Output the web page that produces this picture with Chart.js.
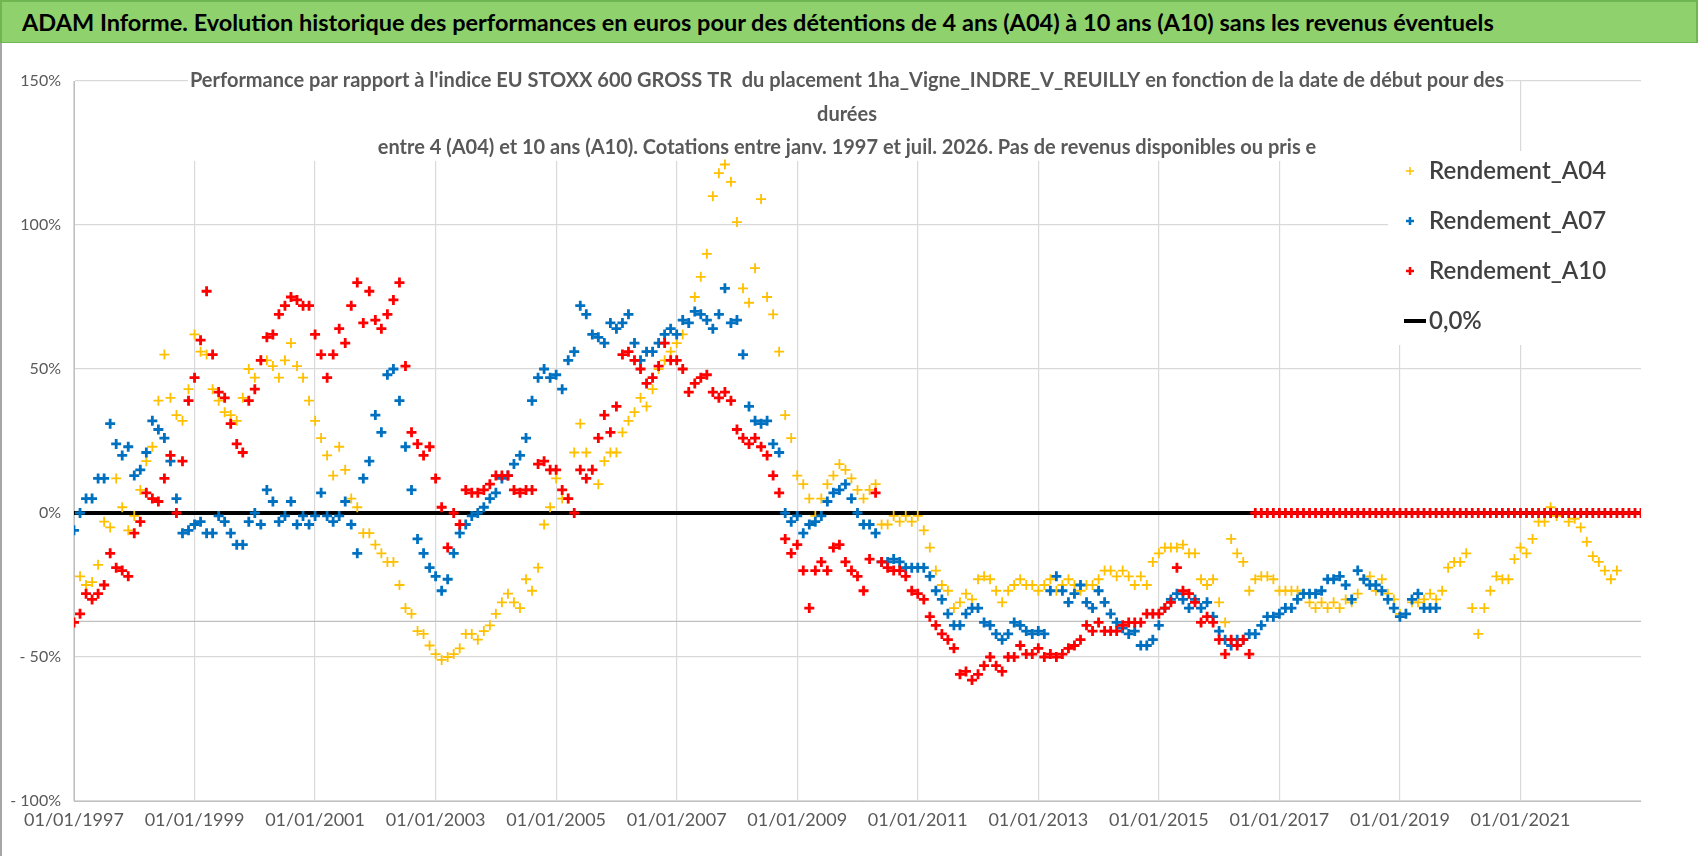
<!DOCTYPE html>
<html>
<head>
<meta charset="utf-8">
<script src="https://cdn.jsdelivr.net/npm/chart.js@4.4.1/dist/chart.umd.min.js"></script>
<style>
  html, body { margin: 0; padding: 0; background: #fff; }
  #bar {
    height: 43px; width: 1698px; background: #8fd16c; border: 2px solid #6fb552; border-bottom: 1px solid #6fb552;
    font: bold 23.5px Lato, "Open Sans", sans-serif; color: #000; line-height: 40px; padding-left: 20px; box-sizing: border-box;
  }
  #wrap { width: 1698px; height: 813px; position: relative; border-left: 2px solid #a6a6a6; box-sizing: border-box; }
  canvas { display: block; }
</style>
</head>
<body>
<div id="bar">ADAM Informe. Evolution historique des performances en euros pour des détentions de 4 ans (A04) à 10 ans (A10) sans les revenus éventuels</div>
<div id="wrap"><canvas id="chart" width="1696" height="813"></canvas></div>
<script>
// values in %, one reading every 0.1 year from the start year
const startYear = 1997;
const step = 0.1;

const rendementA04 = [
  -38, -22, -25, -24, -18, -3, -5, 12, 2, -6,
  -1, 8, 18, 23, 39, 55, 40, 34, 32, 43,
  62, 56, 55, 43, 39, 35, 34, 32, 40, 50,
  47, 53, 53, 51, 47, 53, 59, 51, 47, 39,
  32, 26, 20, 13, 23, 15, 5, 2, -7, -7,
  -11, -14, -17, -17, -25, -33, -35, -41, -42, -46,
  -49, -51, -50, -49, -47, -42, -42, -44, -41, -39,
  -35, -31, -28, -31, -33, -23, -27, -19, -4, 2,
  12, 5, 5, 21, 31, 21, 15, 10, 18, 21,
  21, 28, 32, 35, 40, 37, 43, 50, 53, 56,
  59, 62, 66, 75, 82, 90, 110, 118, 121, 115,
  101, 78, 73, 85, 109, 75, 69, 56, 34, 26,
  13, 10, 5, -1, 5, 10, 13, 17, 15, 12,
  8, 5, 8, 10, -4, -4, -1, -3, -1, -3,
  -1, -6, -12, -20, -25, -27, -33, -31, -28, -30,
  -23, -22, -23, -27, -31, -27, -25, -23, -25, -25,
  -27, -25, -23, -27, -25, -23, -25, -27, -25, -25,
  -23, -20, -20, -22, -20, -22, -25, -22, -25, -17,
  -14, -12, -12, -12, -11, -14, -14, -23, -25, -23,
  -31, -38, -9, -14, -17, -27, -23, -22, -22, -23,
  -27, -27, -27, -27, -28, -31, -33, -31, -33, -31,
  -33, -30, -31, -28, -23, -22, -27, -23, -28, -30,
  -35, -35, -31, -31, -30, -28, -30, -27, -19, -17,
  -17, -14, -33, -42, -33, -27, -22, -23, -23, -16,
  -12, -14, -9, -3, -3, 2, -1, 0, -3, -2,
  -5, -10, -15, -17, -20, -23, -20
];

const rendementA07 = [
  -6, 0, 5, 5, 12, 12, 31, 24, 20, 23,
  13, 15, 21, 32, 29, 26, 18, 5, -7, -6,
  -4, -3, -7, -7, -1, -3, -7, -11, -11, -3,
  0, -4, 8, 4, -3, -1, 4, -4, -1, -4,
  -1, 7, -1, -3, -1, 4, -4, -14, 12, 18,
  34, 28, 48, 50, 39, 23, 8, -9, -14, -19,
  -22, -27, -23, -14, -7, -4, -1, 0, 2, 5,
  7, 12, 13, 17, 20, 26, 39, 47, 50, 47,
  48, 43, 53, 56, 72, 69, 62, 61, 59, 66,
  64, 66, 69, 59, 53, 56, 56, 59, 62, 64,
  62, 67, 66, 70, 69, 67, 64, 69, 78, 66,
  67, 55, 37, 32, 31, 32, 24, 21, 0, -3,
  -1, -7, -4, -3, -1, 4, 7, 8, 10, 5,
  0, -4, -4, -7, -17, -17, -16, -17, -19, -19,
  -19, -19, -22, -27, -30, -35, -39, -39, -35, -33,
  -33, -38, -39, -42, -44, -42, -38, -39, -41, -42,
  -41, -42, -27, -22, -27, -31, -28, -25, -31, -33,
  -27, -31, -35, -38, -40, -42, -41, -46, -46, -44,
  -39, -33, -30, -28, -30, -33, -30, -33, -31, -36,
  -41, -44, -46, -44, -44, -42, -42, -39, -36, -36,
  -35, -33, -33, -30, -28, -28, -28, -27, -23, -23,
  -22, -25, -30, -20, -23, -25, -25, -27, -30, -33,
  -36, -35, -30, -28, -33, -33, -33
];

const rendementA10 = [
  -38, -35, -28, -30, -28, -25, -14, -19, -20, -22,
  -7, -3, 7, 5, 4, 12, 20, 0, 18, 39,
  47, 60, 77, 55, 42, 40, 31, 24, 21, 39,
  43, 53, 61, 62, 69, 72, 75, 74, 72, 72,
  62, 55, 47, 55, 64, 59, 72, 80, 66, 77,
  67, 64, 69, 74, 80, 51, 28, 24, 20, 23,
  12, 2, -12, 0, -4, 8, 7, 7, 8, 10,
  13, 13, 13, 8, 7, 8, 8, 17, 18, 15,
  15, 8, 5, 0, 15, 12, 15, 26, 34, 28,
  37, 55, 56, 53, 50, 45, 47, 51, 59, 53,
  53, 50, 42, 45, 47, 48, 42, 40, 42, 39,
  29, 26, 24, 26, 23, 20, 13, 7, -9, -14,
  -11, -20, -33, -20, -17, -20, -12, -11, -17, -20,
  -22, -27, -16, 7, -17, -19, -20, -20, -22, -27,
  -28, -30, -36, -39, -42, -44, -47, -56, -55, -58,
  -56, -53, -50, -53, -55, -50, -50, -46, -49, -49,
  -47, -50, -49, -50, -49, -47, -46, -44, -39, -41,
  -38, -41, -41, -41, -39, -38, -38, -38, -35, -35,
  -35, -33, -31, -19, -27, -28, -31, -38, -36, -38,
  -44, -49, -44, -46, -44, -49,
  0, 0, 0, 0,
  0, 0, 0, 0, 0, 0, 0, 0, 0, 0,
  0, 0, 0, 0, 0, 0, 0, 0, 0, 0,
  0, 0, 0, 0, 0, 0, 0, 0, 0, 0,
  0, 0, 0, 0, 0, 0, 0, 0, 0, 0,
  0, 0, 0, 0, 0, 0, 0, 0, 0, 0,
  0, 0, 0, 0, 0, 0, 0, 0, 0, 0,
  0
];

const zeroLineYears = [1997, 2023];
const zeroLineValues = [0, 0];
const refLineValues = [-37.6, -37.6];

const xTickYears = [1997, 1999, 2001, 2003, 2005, 2007, 2009, 2011, 2013, 2015, 2017, 2019, 2021];
const yTicks = [-100, -50, 0, 50, 100, 150];

const titleLines = [
  "Performance par rapport à l'indice EU STOXX 600 GROSS TR  du placement 1ha_Vigne_INDRE_V_REUILLY en fonction de la date de début pour des",
  "durées",
  "entre 4 (A04) et 10 ans (A10). Cotations entre janv. 1997 et juil. 2026. Pas de revenus disponibles ou pris e"
];

function toPoints(values) {
  return values.map((v, i) => ({ x: +(startYear + i * step).toFixed(2), y: v }));
}
function pairPoints(xs, ys) {
  return xs.map((x, i) => ({ x: x, y: ys[i] }));
}

const legendItems = [
  { label: 'Rendement_A04', color: '#ffc000', kind: 'cross', width: 1.5 },
  { label: 'Rendement_A07', color: '#0070c0', kind: 'cross', width: 2.5 },
  { label: 'Rendement_A10', color: '#ff0000', kind: 'cross', width: 2.5 },
  { label: '0,0%', color: '#000000', kind: 'line', width: 4 }
];

const overlayPlugin = {
  id: 'overlay',
  beforeDatasetsDraw(chart) {
    const ctx = chart.ctx;
    ctx.save();
    ctx.fillStyle = '#ffffff';
    ctx.fillRect(186, 0, 1317, 118);   // title box
    ctx.fillRect(1386, 108, 282, 194); // legend box
    ctx.restore();
  },
  afterDraw(chart) {
    const ctx = chart.ctx;
    ctx.save();
    ctx.fillStyle = '#595959';
    ctx.font = 'bold 20px Lato, "Open Sans", sans-serif';
    ctx.textAlign = 'center';
    ctx.textBaseline = 'middle';
    const ys = [38, 72, 105];
    titleLines.forEach((t, i) => ctx.fillText(t, 845, ys[i]));

    ctx.font = '600 24px Lato, "Open Sans", sans-serif';
    ctx.textAlign = 'left';
    legendItems.forEach((it, i) => {
      const y = 128 + i * 50;
      ctx.strokeStyle = it.color;
      ctx.lineWidth = it.width;
      ctx.beginPath();
      if (it.kind === 'cross') {
        ctx.moveTo(1404, y); ctx.lineTo(1412, y);
        ctx.moveTo(1408, y - 4); ctx.lineTo(1408, y + 4);
      } else {
        ctx.moveTo(1402, y); ctx.lineTo(1424, y);
      }
      ctx.stroke();
      ctx.fillStyle = '#404040';
      ctx.fillText(it.label, 1427, y);
    });
    ctx.restore();
  }
};

new Chart(document.getElementById('chart'), {
  type: 'scatter',
  data: {
    datasets: [
      {
        label: 'Rendement_A10', data: toPoints(rendementA10), pointStyle: 'cross',
        pointRadius: 5, pointBorderWidth: 2.8, borderColor: '#ff0000', backgroundColor: '#ff0000', order: 1
      },
      {
        label: 'Rendement_A07', data: toPoints(rendementA07), pointStyle: 'cross',
        pointRadius: 5, pointBorderWidth: 2.8, borderColor: '#0070c0', backgroundColor: '#0070c0', order: 2
      },
      {
        label: 'Rendement_A04', data: toPoints(rendementA04), pointStyle: 'cross',
        pointRadius: 5, pointBorderWidth: 1.8, borderColor: '#ffc000', backgroundColor: '#ffc000', order: 3
      },
      {
        label: '0,0%', type: 'line', data: pairPoints(zeroLineYears, zeroLineValues), showLine: true,
        borderColor: '#000000', borderWidth: 4, pointRadius: 0, order: 4
      },
      {
        label: 'ref', type: 'line', data: pairPoints(zeroLineYears, refLineValues), showLine: true,
        borderColor: '#bfbfbf', borderWidth: 1.3, pointRadius: 0, order: 5
      }
    ]
  },
  options: {
    responsive: false,
    animation: false,
    devicePixelRatio: 1,
    layout: { padding: { top: 38, right: 57, left: 0, bottom: 0 } },
    plugins: { legend: { display: false }, tooltip: { enabled: false }, title: { display: false } },
    scales: {
      x: {
        type: 'linear', min: 1997, max: 2023,
        afterBuildTicks: s => { s.ticks = xTickYears.map(v => ({ value: v })); },
        afterFit: s => { s.height = 55; },
        ticks: {
          callback: v => '01/01/' + v, maxRotation: 0, autoSkip: false,
          color: '#595959', font: { family: 'Lato, "Open Sans", sans-serif', size: 18 }, padding: 8
        },
        grid: { color: '#d9d9d9', lineWidth: 1.2, drawTicks: false },
        border: { color: '#bfbfbf' }
      },
      y: {
        min: -100, max: 150,
        afterBuildTicks: s => { s.ticks = yTicks.map(v => ({ value: v })); },
        afterFit: s => { s.width = 72; },
        ticks: {
          callback: v => (v < 0 ? '- ' + (-v) : v) + '%',
          color: '#595959', font: { family: 'Lato, "Open Sans", sans-serif', size: 16 }, padding: 13
        },
        grid: { color: '#d9d9d9', lineWidth: 1.2, drawTicks: false },
        border: { color: '#bfbfbf' }
      }
    }
  },
  plugins: [overlayPlugin]
});
</script>
</body>
</html>
